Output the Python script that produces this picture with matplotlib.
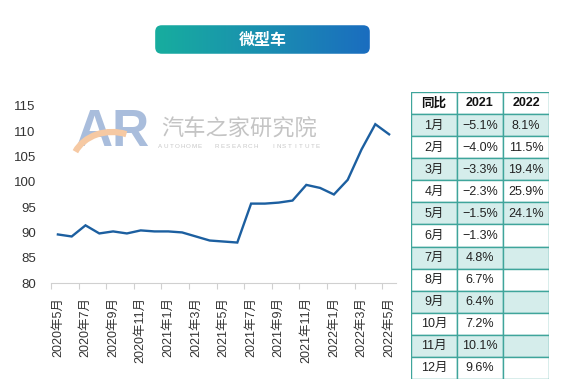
import numpy as np
import matplotlib
matplotlib.use("Agg")
import matplotlib.pyplot as plt
from matplotlib.patches import FancyBboxPatch, Rectangle, Arc
from matplotlib.colors import LinearSegmentedColormap

plt.rcParams['font.family'] = ['Liberation Sans', 'Noto Sans CJK SC']

# ---------------- data ----------------
months = ['2020年5月', '2020年6月', '2020年7月', '2020年8月', '2020年9月', '2020年10月',
          '2020年11月', '2020年12月', '2021年1月', '2021年2月', '2021年3月', '2021年4月',
          '2021年5月', '2021年6月', '2021年7月', '2021年8月', '2021年9月', '2021年10月',
          '2021年11月', '2021年12月', '2022年1月', '2022年2月', '2022年3月', '2022年4月',
          '2022年5月']
index_values = [89.6, 89.2, 91.4, 89.8, 90.2, 89.8, 90.4, 90.2, 90.2, 90.0, 89.2, 88.4,
                88.2, 88.0, 95.7, 95.7, 95.9, 96.3, 99.4, 98.8, 97.5, 100.4, 106.4,
                111.4, 109.4]
y_ticks = [80, 85, 90, 95, 100, 105, 110, 115]
title = '微型车'
table_header = ['同比', '2021', '2022']
table_months = ['1月', '2月', '3月', '4月', '5月', '6月', '7月', '8月', '9月', '10月', '11月', '12月']
yoy_2021 = [-5.1, -4.0, -3.3, -2.3, -1.5, -1.3, 4.8, 6.7, 6.4, 7.2, 10.1, 9.6]
yoy_2022 = [8.1, 11.5, 19.4, 25.9, 24.1]

W, H = 562, 392
fig = plt.figure(figsize=(W / 100, H / 100), dpi=100)
fig.patch.set_facecolor('white')

# background overlay (pixel coords) for watermark
bg = fig.add_axes([0, 0, 1, 1], zorder=0)
bg.set_xlim(0, W)
bg.set_ylim(H, 0)
bg.axis('off')
bg.text(113, 133, 'AR', fontsize=37, fontweight='bold', color='#a9bddc', ha='center',
        va='center', family='Liberation Sans', zorder=2)
bg.add_patch(Arc((112, 165), 80, 66, theta1=200, theta2=295, color='#f6c9a3', lw=4.5, zorder=3))
bg.text(239, 129, '汽车之家研究院', fontsize=16, color='#c4c4c4', ha='center', va='center',
        family=['Noto Sans CJK SC', 'DejaVu Sans'])
eng = 'AUTOHOME  RESEARCH  INSTITUTE'
for ch, xp in zip(eng, np.linspace(160, 318, len(eng))):
    bg.text(xp, 146, ch, fontsize=4.5, color='#c8c8c8', ha='center', va='center')

# main chart
ax = fig.add_axes([51 / W, 1 - 283 / H, 345 / W, (283 - 106) / H], zorder=2)
ax.patch.set_alpha(0)
x = np.arange(len(index_values))
ax.plot(x, index_values, color='#1c5fa0', lw=1.7, solid_joinstyle='miter')
ax.set_xlim(-0.5, len(index_values) - 0.5)
ax.set_ylim(y_ticks[0], y_ticks[-1])
ax.set_yticks(y_ticks)
ax.set_yticklabels([str(v) for v in y_ticks], fontsize=9.5, color='#333333')
ax.tick_params(axis='y', length=0, pad=11)
ax.set_xticks(x[::2])
ax.set_xticklabels(months[::2], rotation=90, fontsize=9, color='#333333', va='top', ha='center')
ax.tick_params(axis='x', which='major', length=0, pad=10)
ax.set_xticks(np.arange(-0.5, len(index_values), 2), minor=True)
ax.tick_params(axis='x', which='minor', length=4, color='#d0d0d0', width=0.8)
for s in ['top', 'right', 'left']:
    ax.spines[s].set_visible(False)
ax.spines['bottom'].set_color('#d0d0d0')
ax.spines['bottom'].set_linewidth(0.8)

# title box with gradient
tax = fig.add_axes([153 / W, 1 - 55 / H, 219 / W, 31 / H], zorder=3)
tax.set_xlim(0, 1)
tax.set_ylim(0, 1)
tax.axis('off')
grad = np.linspace(0, 1, 256).reshape(1, -1)
cmap = LinearSegmentedColormap.from_list('tb', ['#17ae9e', '#1a8fb0', '#1b6cc0'])
im = tax.imshow(grad, extent=[0, 1, 0, 1], aspect='auto', cmap=cmap)
box = FancyBboxPatch((0.01, 0.04), 0.98, 0.92, boxstyle='round,pad=0,rounding_size=0.03',
                     transform=tax.transAxes, facecolor='none', edgecolor='none',
                     mutation_aspect=7)
tax.add_patch(box)
im.set_clip_path(box)
tax.text(0.5, 0.5, title, color='white', fontsize=11.5, fontweight='bold', ha='center',
         va='center', family=['Noto Sans CJK SC', 'DejaVu Sans'])

# table
tb = fig.add_axes([411 / W, 1 - 379 / H, 138 / W, (379 - 92) / H], zorder=3)
nrows = len(table_months) + 1
tb.set_xlim(0, 3)
tb.set_ylim(nrows, 0)
tb.axis('off')
border = '#3fa59b'
shade = '#d5edeb'
for r in range(nrows):
    fc = shade if (r % 2 == 1) else 'white'
    for c in range(3):
        tb.add_patch(Rectangle((c, r), 1, 1, facecolor=fc, edgecolor=border, lw=1.0))
    if r == 0:
        for c, t in enumerate(table_header):
            tb.text(c + 0.5, 0.52, t, ha='center', va='center', fontsize=9, fontweight='bold',
                    color='#111111')
    else:
        i = r - 1
        tb.text(0.5, r + 0.52, table_months[i], ha='center', va='center', fontsize=9, color='#222222')
        tb.text(1.5, r + 0.52, f'{yoy_2021[i]:.1f}%'.replace('-', '\u2212'), ha='center',
                va='center', fontsize=9, color='#222222')
        if i < len(yoy_2022):
            tb.text(2.5, r + 0.52, f'{yoy_2022[i]:.1f}%', ha='center', va='center', fontsize=9,
                    color='#222222')

fig.savefig('out.png', dpi=100)
